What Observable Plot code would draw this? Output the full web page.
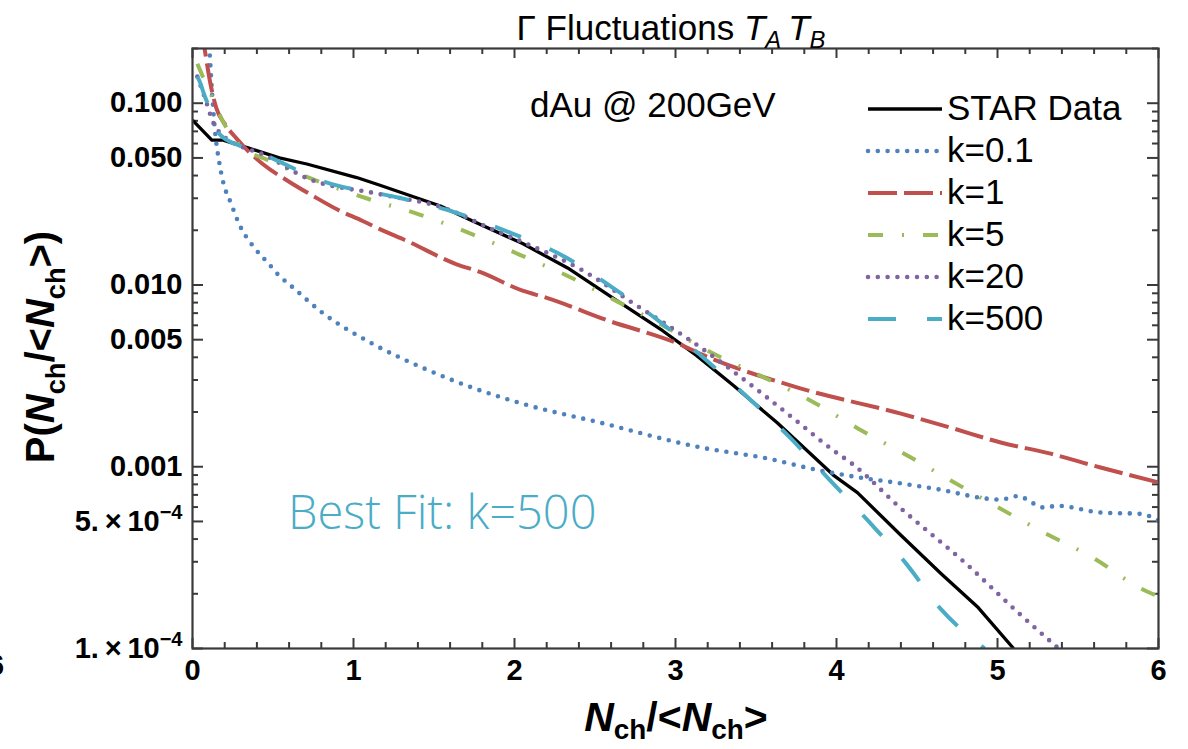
<!DOCTYPE html>
<html><head><meta charset="utf-8">
<script src="https://cdn.jsdelivr.net/npm/d3@7"></script>
<script src="https://cdn.jsdelivr.net/npm/@observablehq/plot@0.6"></script>
<style>body{margin:0;background:#fff;overflow:hidden}</style>
</head><body><div id="chart"></div>
<script>
// ---------- data ----------
const seriesNames = ["STAR Data", "k=0.1", "k=1", "k=5", "k=20", "k=500"];

const starX = [0, 0.12, 0.19, 0.35, 0.54, 0.71, 1.02, 1.16, 1.54, 1.74, 2.05, 2.33, 2.61, 2.92, 3.13, 3.36, 3.63, 3.98, 4.13, 4.40, 4.65, 4.88, 5.10];
const starY = [0.0807, 0.0626, 0.0626, 0.0566, 0.050, 0.0463, 0.039, 0.0355, 0.0272, 0.0225, 0.0169, 0.0124, 0.0085, 0.0056, 0.0041, 0.0028, 0.00175, 0.0009, 0.00072, 0.00042, 0.000258, 0.000168, 0.0001];

const k01X = [0.09, 0.105, 0.12, 0.14, 0.165, 0.19, 0.24, 0.29, 0.385, 0.47, 0.54, 0.6, 0.81, 1.12, 1.43, 1.74, 2.05, 2.53, 3.15, 3.57, 3.88, 4.19, 4.40, 4.6, 5.02, 5.13, 5.22, 5.29, 5.37, 5.64, 5.89, 6.0];
const k01Y = [0.3, 0.2, 0.12, 0.07, 0.048, 0.037, 0.028, 0.0216, 0.016, 0.0132, 0.0112, 0.0101, 0.0070, 0.00474, 0.0035, 0.00272, 0.00222, 0.00175, 0.00128, 0.00111, 0.00096, 0.00086, 0.00081, 0.00076, 0.00066, 0.00069, 0.00063, 0.000596, 0.00061, 0.00056, 0.00055, 0.000505];

const k1X = [0.055, 0.075, 0.11, 0.148, 0.2, 0.27, 0.35, 0.436, 0.6, 0.746, 0.9, 1.057, 1.163, 1.33, 1.64, 1.785, 2.05, 2.2, 2.575, 3.03, 3.15, 3.775, 4.4, 4.71, 5.02, 5.33, 5.64, 6.0];
const k1Y = [0.26, 0.2, 0.13, 0.094, 0.077, 0.0645, 0.054, 0.0463, 0.037, 0.031, 0.026, 0.0225, 0.0203, 0.0175, 0.013, 0.0118, 0.0093, 0.0085, 0.0064, 0.0047, 0.0042, 0.0027, 0.00196, 0.00164, 0.00136, 0.00118, 0.00099, 0.00082];

const k5X = [0.03, 0.08, 0.124, 0.187, 0.3, 0.46, 0.746, 1.08, 1.41, 1.72, 2.03, 2.34, 2.64, 2.95, 3.21, 3.53, 3.84, 4.13, 4.42, 4.71, 5.0, 5.29, 5.6, 5.89, 6.0];
const k5Y = [0.165, 0.13, 0.107, 0.08, 0.058, 0.049, 0.0382, 0.030, 0.0244, 0.0193, 0.0147, 0.0111, 0.0081, 0.0058, 0.0043, 0.00316, 0.00231, 0.00163, 0.00118, 0.00084, 0.0006, 0.000434, 0.000313, 0.000214, 0.000193];

const k20X = [0.03, 0.08, 0.124, 0.2, 0.3, 0.436, 0.71, 1.163, 1.58, 1.847, 2.1, 2.407, 2.74, 3.13, 3.57, 3.775, 3.98, 4.09, 4.40, 4.81, 5.12, 5.38];
const k20Y = [0.14, 0.105, 0.08, 0.065, 0.058, 0.0524, 0.0387, 0.0316, 0.0262, 0.0205, 0.0165, 0.01225, 0.0079, 0.0047, 0.0024, 0.00172, 0.00123, 0.00105, 0.00059, 0.00029, 0.00016, 0.0001];

const k500X = [0.03, 0.044, 0.075, 0.106, 0.168, 0.3, 0.436, 0.81, 1.29, 1.63, 1.98, 2.3, 2.6, 2.9, 3.17, 3.44, 3.71, 3.95, 4.2, 4.43, 4.65, 4.92];
const k500Y = [0.14, 0.132, 0.11, 0.094, 0.0676, 0.058, 0.0524, 0.0372, 0.0301, 0.0251, 0.0193, 0.0145, 0.0098, 0.0063, 0.004, 0.00245, 0.00145, 0.00086, 0.0005, 0.000295, 0.000164, 0.0001];

const xTickValues = [0, 1, 2, 3, 4, 5, 6];
const yTickValues = [1e-4, 5e-4, 0.001, 0.005, 0.01, 0.05, 0.1];
const yTickLabels = ["1.\u2009\u00d7\u200910", "5.\u2009\u00d7\u200910", "0.001", "0.005", "0.010", "0.050", "0.100"];
const yTickExponents = ["\u22124", "\u22124", "", "", "", "", ""];

// ---------- styles ----------
const seriesStyles = [
  {stroke: "#000000", strokeWidth: 3.3, dash: null, cap: "butt", curve: "linear"},
  {stroke: "#4F81BD", strokeWidth: 4.6, dash: "0,9.8", cap: "round", curve: "monotone-x"},
  {stroke: "#C0504D", strokeWidth: 4, dash: "29,7", cap: "butt", curve: "monotone-x"},
  {stroke: "#9BBB59", strokeWidth: 4, dash: "15,19,2,19", cap: "butt", curve: "monotone-x"},
  {stroke: "#8064A2", strokeWidth: 4.6, dash: "0,9.8", cap: "round", curve: "monotone-x"},
  {stroke: "#4BACC6", strokeWidth: 4, dash: "28,31", cap: "butt", curve: "monotone-x"}
];
const seriesX = [starX, k01X, k1X, k5X, k20X, k500X];
const seriesY = [starY, k01Y, k1Y, k5Y, k20Y, k500Y];

const rows = seriesNames.map((name, s) => seriesX[s].map((x, i) => ({series: name, x, y: seriesY[s][i]})));

// tick positions (axis furniture)
const xMinor = d3.range(0, 6.0001, 0.2).filter(v => Math.abs(v - Math.round(v)) > 1e-6);
const yMinor = [];
for (const dec of [1e-4, 1e-3, 1e-2]) for (const m of [2, 3, 4, 6, 7, 8, 9]) yMinor.push(m * dec);
yMinor.push(0.2);
const labelOf = new Map(yTickValues.map((v, i) => [v, yTickLabels[i]]));

const W = 1188, H = 749, ML = 192, MR = 30, MT = 48, MB = 101;
const FW = W - ML - MR, FH = H - MT - MB;
const tickColor = "#3a3a3a";
const F = "'Liberation Sans', Arial, sans-serif";

const plot = Plot.plot({
  width: W, height: H,
  marginLeft: ML, marginRight: MR, marginTop: MT, marginBottom: MB,
  x: {domain: [0, 6], axis: null},
  y: {type: "log", domain: [1e-4, 0.2], axis: null},
  style: {fontFamily: F, fontSize: "29px", fontWeight: "bold", color: "#000", background: "#fff"},
  marks: [
    Plot.axisX({ticks: xTickValues, tickSize: 0, tickPadding: 11, tickFormat: d => String(d), label: null, fontSize: 29}),
    Plot.text(yTickValues, {y: d => d, text: d => labelOf.get(d), frameAnchor: "left", dx: -10, textAnchor: "end",
      fontSize: 29, fontWeight: "bold", fill: "#000"}),
    // bottom / top x ticks
    Plot.tickX(xTickValues, {x: d => d, insetTop: FH - 10, stroke: tickColor, strokeWidth: 2}),
    Plot.tickX(xMinor, {x: d => d, insetTop: FH - 6, stroke: tickColor, strokeWidth: 2}),
    Plot.tickX(xTickValues, {x: d => d, insetBottom: FH - 10, stroke: tickColor, strokeWidth: 2}),
    Plot.tickX(xMinor, {x: d => d, insetBottom: FH - 6, stroke: tickColor, strokeWidth: 2}),
    // left / right y ticks
    Plot.tickY(yTickValues, {y: d => d, insetRight: FW - 11, stroke: tickColor, strokeWidth: 2}),
    Plot.tickY(yMinor, {y: d => d, insetRight: FW - 6, stroke: tickColor, strokeWidth: 2}),
    Plot.tickY(yTickValues, {y: d => d, insetLeft: FW - 11, stroke: tickColor, strokeWidth: 2}),
    Plot.tickY(yMinor, {y: d => d, insetLeft: FW - 6, stroke: tickColor, strokeWidth: 2}),
    ...rows.map((data, s) => Plot.line(data, {
      x: "x", y: "y", clip: true, curve: seriesStyles[s].curve,
      stroke: seriesStyles[s].stroke, strokeWidth: seriesStyles[s].strokeWidth,
      strokeDasharray: seriesStyles[s].dash, strokeLinecap: seriesStyles[s].cap, strokeLinejoin: "round"
    })),
    Plot.frame({stroke: tickColor, strokeWidth: 2.2})
  ]
});
document.getElementById("chart").appendChild(plot);

const svg = d3.select(plot);

// superscripts on the scientific tick labels
svg.selectAll("text").each(function() {
  const i = yTickLabels.indexOf(this.textContent);
  if (i >= 0 && yTickExponents[i]) {
    d3.select(this).append("tspan").attr("dy", -12).attr("font-size", 20).text(yTickExponents[i]);
  }
});

function rich(sel, parts, size, subShift) {
  let shift = 0;
  for (const p of parts) {
    const target = p.sub ? subShift : 0;
    const ts = sel.append("tspan").text(p.t);
    if (target - shift !== 0) ts.attr("dy", target - shift);
    shift = target;
    if (p.sub) ts.attr("font-size", size * 0.68);
    if (p.italic) ts.attr("font-style", "italic");
  }
}

// title
const title = svg.append("text").attr("x", 671).attr("y", 40).attr("text-anchor", "middle")
  .attr("font-family", F).attr("font-size", 35).attr("font-weight", "normal").attr("fill", "#000");
rich(title, [{t: "\u0393 Fluctuations "}, {t: "T", italic: true}, {t: "A", italic: true, sub: true}, {t: "\u2009T", italic: true}, {t: "B", italic: true, sub: true}], 35, 8);

// y label
const yl = svg.append("text").attr("transform", "translate(54,347) rotate(-90)").attr("text-anchor", "middle")
  .attr("font-family", F).attr("font-size", 40).attr("font-weight", "bold").attr("fill", "#000");
rich(yl, [{t: "P("}, {t: "N", italic: true}, {t: "ch", sub: true}, {t: "/<"}, {t: "N", italic: true}, {t: "ch", sub: true}, {t: ">)"}], 40, 11);

// x label
const xl = svg.append("text").attr("x", 676).attr("y", 731).attr("text-anchor", "middle")
  .attr("font-family", F).attr("font-size", 41).attr("font-weight", "bold").attr("fill", "#000");
rich(xl, [{t: "N", italic: true}, {t: "ch", sub: true}, {t: "/<"}, {t: "N", italic: true}, {t: "ch", sub: true}, {t: ">"}], 41, 8);

// annotations
svg.append("text").attr("x", 530).attr("y", 117).attr("text-anchor", "start").attr("font-family", F).attr("font-size", 35)
  .attr("font-weight", "normal").attr("fill", "#000").text("dAu @ 200GeV");
svg.append("text").attr("x", 288).attr("y", 529).attr("text-anchor", "start").attr("font-family", "'Open Sans', 'Noto Sans', sans-serif").attr("font-size", 47)
  .attr("font-weight", 300).attr("fill", "#4BACC6").text("Best Fit: k=500");
// clipped neighbour-panel tick label at the left edge
svg.append("text").attr("x", -12).attr("y", 675).attr("text-anchor", "start").attr("font-family", F).attr("font-size", 29)
  .attr("font-weight", "bold").attr("fill", "#000").text("6");

// legend
const lg = svg.append("g");
seriesNames.forEach((name, s) => {
  const y = 109 + s * 42;
  const st = seriesStyles[s];
  lg.append("line").attr("x1", 868).attr("x2", 942).attr("y1", y).attr("y2", y)
    .attr("stroke", st.stroke).attr("stroke-width", st.strokeWidth)
    .attr("stroke-dasharray", st.dash).attr("stroke-linecap", st.cap);
  lg.append("text").attr("x", 947).attr("y", y + 11).attr("text-anchor", "start").attr("font-family", F).attr("font-size", 35)
    .attr("font-weight", "normal").attr("fill", "#000").text(name);
});
</script>
</body></html>
